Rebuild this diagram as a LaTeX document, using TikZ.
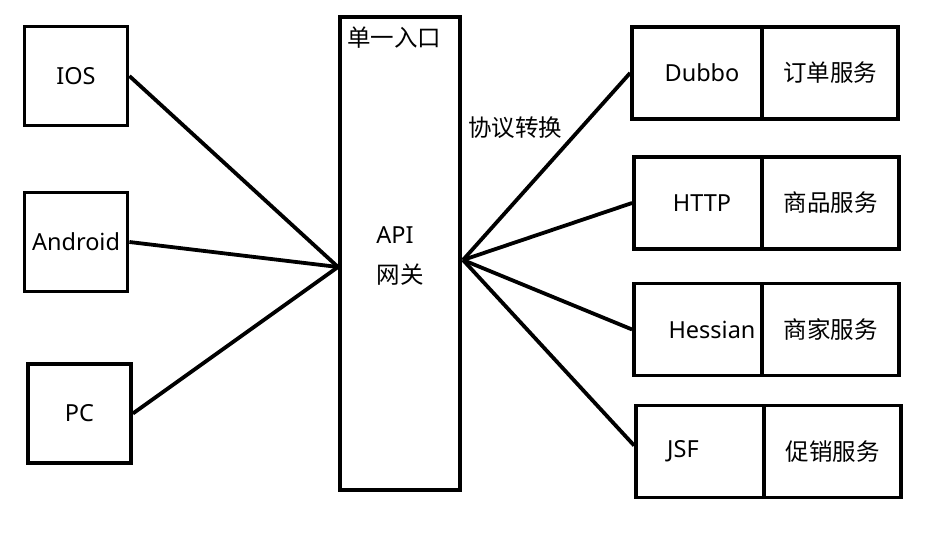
\documentclass[tikz,border=0pt]{standalone}
\usepackage{fontspec}
\setmainfont{Noto Sans}
\newfontfamily\cjk{Noto Sans CJK SC}
\usetikzlibrary{positioning}

\begin{document}
\begin{tikzpicture}[
  x=1pt, y=-1pt,
  font=\fontsize{23.5}{28}\selectfont,
  client/.style={draw, line width=3.8pt, minimum width=103pt, minimum height=99pt, inner sep=0pt},
  gate/.style={draw, line width=3.8pt, minimum width=120.5pt, minimum height=473.5pt, inner sep=0pt},
  proto/.style={draw, line width=3.8pt, minimum height=92pt, inner sep=0pt},
  svc/.style={draw, line width=3.8pt, minimum height=92pt, inner sep=0pt, font=\fontsize{23.5}{28}\selectfont\cjk},
  link/.style={line width=3.8pt},
  tag/.style={font=\fontsize{23.5}{28}\selectfont\cjk, inner sep=0pt},
]
\useasboundingbox (0,0) rectangle (938,534);
% clients
\node[client] (ios) at (76,76) {IOS};
\node[client] (android) at (76,242) {Android};
\node[client] (pc) at (79.5,413.5) {PC};
% gateway
\node[gate] (gw) at (400,253.5) {};
\node[tag] (entry) at (394,38) {单一入口};
\node[inner sep=0pt] (api) at (395,235) {API};
\node[tag] (gwname) at (400,275) {网关};
\coordinate (gwin) at (338,267);
\coordinate (gwout) at (463,260);
\node[tag] (conv) at (515,128) {协议转换};
% services
\node[proto, minimum width=130pt] (dubbo) at (697,73) {\kern10pt Dubbo};
\node[svc, minimum width=136pt] (order) at (830,73) {订单服务};
\node[proto, minimum width=128pt] (http) at (698,203) {\kern8pt HTTP};
\node[svc, minimum width=137pt] (goods) at (830.5,203) {商品服务};
\node[proto, minimum width=128pt] (hessian) at (698,329.5) {\kern28pt Hessian};
\node[svc, minimum width=137pt] (shop) at (830.5,329.5) {商家服务};
\node[proto, minimum width=128pt] (jsf) at (700,451.5) {JSF\kern34pt};
\node[svc, minimum width=137pt] (promo) at (832.5,451.5) {促销服务};
% links
\foreach \c in {ios,android,pc} \draw[link] (\c.east) -- (gwin);
\foreach \s in {dubbo,http,hessian} \draw[link] (gwout) -- (\s.west);
\draw[link] (gwout) -- ([yshift=6pt]jsf.west);
\end{tikzpicture}
\end{document}
